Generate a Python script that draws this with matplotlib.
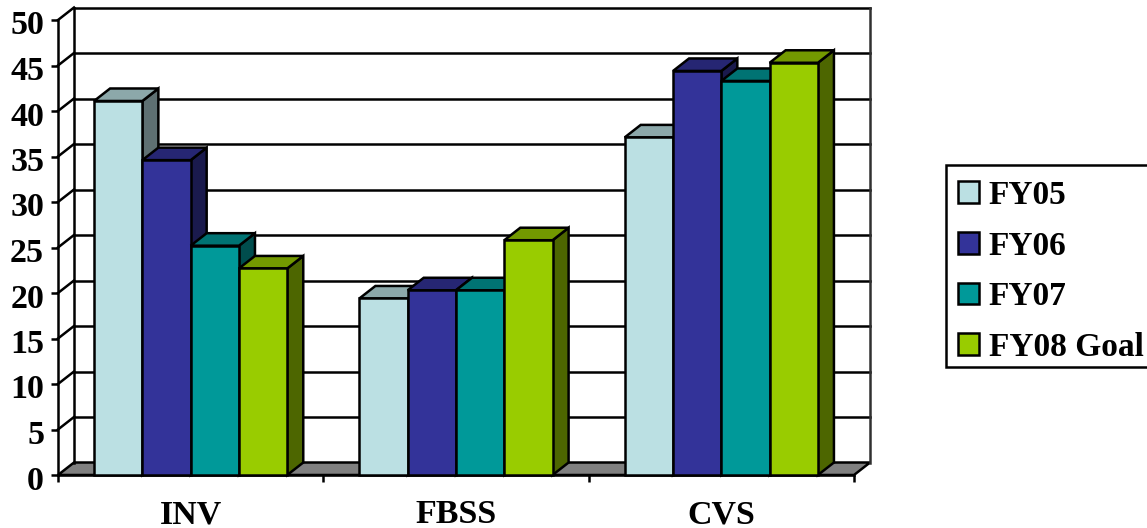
import matplotlib
matplotlib.use("Agg")
import matplotlib.pyplot as plt
from matplotlib.patches import Patch, Rectangle
from matplotlib.colors import to_rgb
from matplotlib.transforms import ScaledTranslation

categories = ["INV", "FBSS", "CVS"]
series_names = ["FY05", "FY06", "FY07", "FY08 Goal"]
fy05 = [41.1, 19.4, 37.1]
fy06 = [34.6, 20.3, 44.4]
fy07 = [25.2, 20.3, 43.3]
fy08 = [22.7, 25.8, 45.3]
y_ticks = [0, 5, 10, 15, 20, 25, 30, 35, 40, 45, 50]

colors = ["#BBE0E3", "#333399", "#009999", "#99CC00"]

W, H = 1147, 528
plt.rcParams["font.family"] = ["Liberation Serif", "DejaVu Serif"]
plt.rcParams["font.weight"] = "bold"

fig = plt.figure(figsize=(W / 100, H / 100), dpi=100)
ax = fig.add_axes([58 / W, (H - 475) / H, 796 / W, 455 / H])
ax.set_xlim(0, 3)
ax.set_ylim(0, 50)
ax.patch.set_visible(False)

# depth of the fake 3d box, in data units
dx = 16 / (796 / 3)
dy = 12.5 / 9.1
lw = 1.8

# floor and back wall
ax.fill([0, 3, 3 + dx, dx], [0, 0, dy, dy], facecolor="#808080", edgecolor="black",
        lw=lw, clip_on=False, zorder=1)
for v in y_ticks[1:]:
    ax.plot([dx, 3 + dx], [v + dy, v + dy], color="black", lw=lw, clip_on=False, zorder=1)
    ax.plot([0, dx], [v, v + dy], color="black", lw=lw, clip_on=False, zorder=1)
ax.plot([dx, dx], [dy, 50 + dy], color="black", lw=lw, clip_on=False, zorder=1)
ax.plot([3 + dx, 3 + dx], [dy, 50 + dy], color="#303030", lw=lw, clip_on=False, zorder=1)

# bars
bar_w = 48.3 / (796 / 3)
all_series = [fy05, fy06, fy07, fy08]
z = 3
for j, vals in enumerate(all_series):
    base = to_rgb(colors[j])
    top_c = [c * 0.75 for c in base]
    side_c = [c * 0.5 for c in base]
    for i, v in enumerate(vals):
        x0 = i + 0.5 + (j - 2) * bar_w
        x1 = x0 + bar_w
        ax.fill([x1, x1 + dx, x1 + dx, x1], [0, dy, v + dy, v], facecolor=side_c,
                edgecolor="black", lw=lw, clip_on=False, zorder=z)
        ax.fill([x0, x1, x1 + dx, x0 + dx], [v, v, v + dy, v + dy], facecolor=top_c,
                edgecolor="black", lw=lw, clip_on=False, zorder=z)
        ax.bar(x0, v, width=bar_w, align="edge", color=colors[j], edgecolor="black",
               lw=lw, clip_on=False, zorder=z + 0.5)
        z += 1

# axes
for s in ["top", "right"]:
    ax.spines[s].set_visible(False)
for s in ["left", "bottom"]:
    ax.spines[s].set_linewidth(lw)
    ax.spines[s].set_zorder(2)

ax.set_yticks(y_ticks)
ax.tick_params(axis="y", length=5, width=lw, pad=5, labelsize=24.5)
shift = ScaledTranslation(0, -2.5 / 100, fig.dpi_scale_trans)
for lbl in ax.get_yticklabels():
    lbl.set_transform(lbl.get_transform() + shift)
ax.set_xticks([0, 1, 2, 3])
ax.set_xticklabels([])
ax.tick_params(axis="x", which="major", length=5, width=lw)
ax.set_xticks([0.5, 1.5, 2.5], minor=True)
ax.set_xticklabels(categories, minor=True, fontsize=24.5)
ax.tick_params(axis="x", which="minor", length=0, pad=17.5)

# legend box is drawn by hand so the rows can sit off-centre in it like the original
fig.add_artist(Rectangle((946 / W, (H - 367) / H), 220 / W, 202 / H, transform=fig.transFigure,
                         facecolor="white", edgecolor="black", lw=lw, clip_on=True))
handles = [Patch(facecolor=c, edgecolor="black", lw=lw) for c in colors]
leg = fig.legend(handles, series_names, loc="upper left",
                 bbox_to_anchor=(946 / W, (H - 168) / H), bbox_transform=fig.transFigure,
                 fontsize=24, frameon=False, borderaxespad=0, borderpad=0.36,
                 handlelength=0.62, handleheight=0.62, handletextpad=0.3,
                 labelspacing=0.59)

fig.savefig("out.png", dpi=100)
